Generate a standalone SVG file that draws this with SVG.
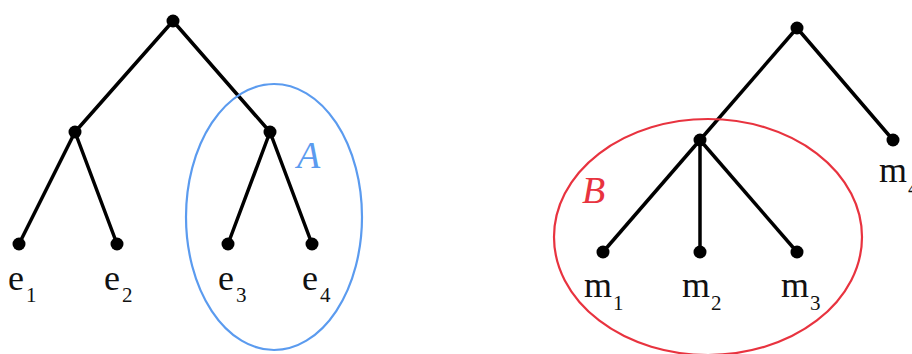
<svg xmlns="http://www.w3.org/2000/svg" width="912" height="354" viewBox="0 0 912 354">
<style>
.e{stroke:#000;stroke-width:3.5;stroke-linecap:round;fill:none}
.d{fill:#000}
.lbl{font-family:"Liberation Serif",serif;font-size:36px;fill:#111}
.sub{font-family:"Liberation Serif",serif;font-size:21px;fill:#111}
.set{font-family:"Liberation Serif",serif;font-style:italic;font-size:38px}
</style>
<rect width="912" height="354" fill="#fff"/>
<g id="connectors">
<line class="e" x1="173" y1="21" x2="75" y2="132"/>
<line class="e" x1="173" y1="21" x2="270" y2="132"/>
<line class="e" x1="75" y1="132" x2="19" y2="244"/>
<line class="e" x1="75" y1="132" x2="117" y2="244"/>
<line class="e" x1="270" y1="132" x2="228" y2="244"/>
<line class="e" x1="270" y1="132" x2="312" y2="244"/>
<line class="e" x1="797" y1="28" x2="700" y2="140"/>
<line class="e" x1="797" y1="28" x2="893" y2="140"/>
<line class="e" x1="700" y1="140" x2="603" y2="252"/>
<line class="e" x1="700" y1="140" x2="700" y2="252"/>
<line class="e" x1="700" y1="140" x2="797" y2="252"/>
</g>
<g id="setA">
<ellipse cx="274" cy="217" rx="88" ry="133" fill="none" stroke="#5b9bef" stroke-width="2.2"/>
<text class="set" x="297" y="168" fill="#5b9bef">A</text>
</g>
<g id="setB">
<ellipse cx="708" cy="237" rx="154" ry="118" fill="none" stroke="#e8333f" stroke-width="2.2"/>
<text class="set" x="582" y="203" fill="#e8333f">B</text>
</g>
<g id="root1"><circle class="d" cx="173" cy="21" r="6.5"/></g>
<g id="n_left"><circle class="d" cx="75" cy="132" r="6.5"/></g>
<g id="n_right"><circle class="d" cx="270" cy="132" r="6.5"/></g>
<g id="e1"><circle class="d" cx="19" cy="244" r="6.5"/><text class="lbl" x="8" y="290">e</text><text class="sub" x="26" y="302">1</text></g>
<g id="e2"><circle class="d" cx="117" cy="244" r="6.5"/><text class="lbl" x="104" y="290">e</text><text class="sub" x="122" y="302">2</text></g>
<g id="e3"><circle class="d" cx="228" cy="244" r="6.5"/><text class="lbl" x="218" y="290">e</text><text class="sub" x="236" y="302">3</text></g>
<g id="e4"><circle class="d" cx="312" cy="244" r="6.5"/><text class="lbl" x="302" y="290">e</text><text class="sub" x="320" y="302">4</text></g>
<g id="root2"><circle class="d" cx="797" cy="28" r="6.5"/></g>
<g id="n_mid"><circle class="d" cx="700" cy="140" r="6.5"/></g>
<g id="m1"><circle class="d" cx="603" cy="252" r="6.5"/><text class="lbl" x="584" y="297">m</text><text class="sub" x="613" y="310">1</text></g>
<g id="m2"><circle class="d" cx="700" cy="252" r="6.5"/><text class="lbl" x="682" y="297">m</text><text class="sub" x="711" y="310">2</text></g>
<g id="m3"><circle class="d" cx="797" cy="252" r="6.5"/><text class="lbl" x="781" y="297">m</text><text class="sub" x="810" y="310">3</text></g>
<g id="m4"><circle class="d" cx="893" cy="140" r="6.5"/><text class="lbl" x="879" y="182">m</text><text class="sub" x="908" y="195">4</text></g>
</svg>
